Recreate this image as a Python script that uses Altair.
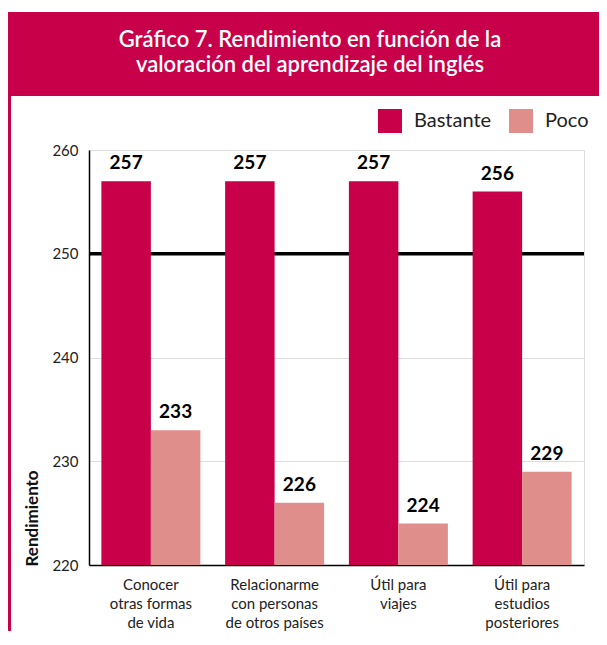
import altair as alt
import pandas as pd

# ---- data ----
categorias = [
    "Conocer|otras formas|de vida",
    "Relacionarme|con personas|de otros países",
    "Útil para|viajes",
    "Útil para|estudios|posteriores",
]
series = ["Bastante", "Poco"]
bastante = [257, 257, 257, 256]
poco = [233, 226, 224, 229]
colores = ["#C8004A", "#E08E8B"]
titulo = ["Gráfico 7. Rendimiento en función de la", "valoración del aprendizaje del inglés"]
eje_y = "Rendimiento"
ticks_y = [220, 230, 240, 250, 260]
dominio_y = [220, 260]
referencia = [250]

rows = []
for c, b, p in zip(categorias, bastante, poco):
    rows.append({"cat": c, "serie": series[0], "valor": b})
    rows.append({"cat": c, "serie": series[1], "valor": p})
df = pd.DataFrame(rows)

W, H = 495, 415
PAD_R, PAD_B = 15, 66
FONT = "Lato"
BAND = "#C8004A"

x = alt.X(
    "cat:N", sort=categorias,
    scale=alt.Scale(paddingInner=0.2, paddingOuter=0.1),
    axis=alt.Axis(title=None, labelExpr="split(datum.label, '|')", labelAngle=0,
                  ticks=False, labelPadding=12, labelFontSize=15, labelLineHeight=19,
                  labelColor="#222", labelBaseline="top", labelFont=FONT,
                  domainColor="black", domainWidth=1.5),
)
y = alt.Y(
    "valor:Q",
    scale=alt.Scale(domain=dominio_y, zero=False, nice=False),
    axis=alt.Axis(values=ticks_y, title=eje_y, ticks=False, labelPadding=11,
                  labelFontSize=15, labelFont=FONT, labelColor="#222",
                  domainColor="black", domainWidth=1.5,
                  grid=True, gridColor="#dddddd", gridWidth=1,
                  titleFont=FONT, titleFontSize=17, titleFontWeight="bold",
                  titleColor="#111", titleAngle=270, titleAlign="left",
                  titleBaseline="alphabetic", titleX=-52, titleY=H + 1),
)
xoff = alt.XOffset("serie:N", sort=series)

base = alt.Chart(df)

ref = alt.Chart(pd.DataFrame({"ref": referencia})).mark_rule(
    color="black", strokeWidth=3.5
).encode(y=alt.Y("ref:Q", scale=alt.Scale(domain=dominio_y, zero=False, nice=False)))

bars = base.mark_bar(clip=True).encode(
    x=x, xOffset=xoff, y=y, y2=alt.datum(dominio_y[0]),
    color=alt.Color(
        "serie:N", sort=series,
        scale=alt.Scale(domain=series, range=colores),
        legend=alt.Legend(orient="none", legendX=289, legendY=-41, direction="horizontal",
                          title=None, symbolType="square", symbolSize=576,
                          symbolStrokeWidth=0, symbolOpacity=1, labelFontSize=20,
                          labelFont=FONT, labelColor="#222", labelOffset=12,
                          columnPadding=17, padding=0),
    ),
)

labels = base.mark_text(
    dy=-12, baseline="alphabetic", fontSize=19, fontWeight="bold", font=FONT, color="black"
).encode(x=x, xOffset=xoff, y=y, text="valor:Q")

deco = pd.DataFrame({"t": ["\n".join(titulo)]})
band = alt.Chart(deco).mark_rect(color=BAND).encode(
    x=alt.value(-81), x2=alt.value(W + PAD_R), y=alt.value(-138), y2=alt.value(-54)
)
side = alt.Chart(deco).mark_rect(color=BAND).encode(
    x=alt.value(-81), x2=alt.value(-78), y=alt.value(-54), y2=alt.value(H + PAD_B)
)
title = alt.Chart(deco).mark_text(
    font=FONT, fontSize=22, fontWeight=600, color="white", align="center",
    baseline="middle", lineBreak="\n", lineHeight=25
).encode(x=alt.value(221), y=alt.value(-110), text="t:N")

chart = alt.layer(ref, bars, labels, band, side, title).properties(
    width=W, height=H,
    autosize=alt.AutoSizeParams(type="none"),
    padding={"left": 81, "top": 142, "right": PAD_R, "bottom": PAD_B},
).configure_view(strokeWidth=0).configure(background="white")

chart.save("out.html", embed_options={"renderer": "svg", "actions": False})
